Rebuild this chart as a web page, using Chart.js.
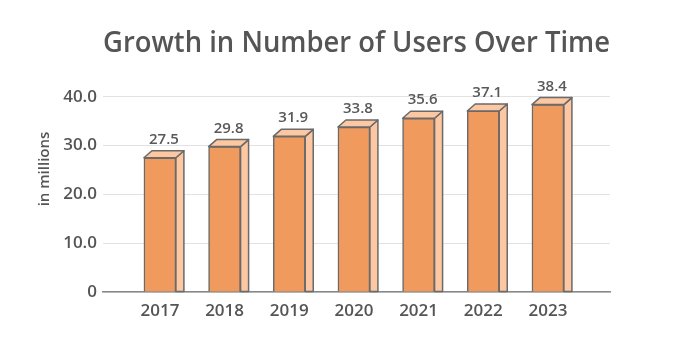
<!DOCTYPE html>
<html>
<head>
<meta charset="utf-8">
<script src="https://cdn.jsdelivr.net/npm/chart.js@4"></script>
<style>
  html, body { margin: 0; padding: 0; background: #fff; }
  #wrap { width: 683px; height: 341px; }
</style>
</head>
<body>
<div id="wrap"><canvas id="users-chart"></canvas></div>
<script>
const years = ['2017', '2018', '2019', '2020', '2021', '2022', '2023'];
const users = [27.5, 29.8, 31.9, 33.8, 35.6, 37.1, 38.4];
const yTicks = [0, 10, 20, 30, 40];

const FONT = '"Open Sans", "Noto Sans", sans-serif';
const FRONT = '#f09a5d';
const SIDE = '#fdc7a2';
const EDGE = '#6a6a6a';
const DEPTH_X = 8;
const DEPTH_Y = 7;

// side + top faces so each bar reads as a box, plus the value above it
const boxBars = {
    id: 'boxBars',
    afterDatasetsDraw(chart) {
        const { ctx } = chart;
        const meta = chart.getDatasetMeta(0);
        ctx.save();
        ctx.lineWidth = 1.5;
        ctx.lineJoin = 'round';
        ctx.strokeStyle = EDGE;
        ctx.fillStyle = SIDE;
        meta.data.forEach((bar) => {
            const half = bar.width / 2;
            const left = bar.x - half;
            const right = bar.x + half;

            ctx.beginPath();
            ctx.moveTo(right, bar.y);
            ctx.lineTo(right + DEPTH_X, bar.y - DEPTH_Y);
            ctx.lineTo(right + DEPTH_X, bar.base);
            ctx.lineTo(right, bar.base);
            ctx.closePath();
            ctx.fill();
            ctx.stroke();

            ctx.beginPath();
            ctx.moveTo(left, bar.y);
            ctx.lineTo(left + DEPTH_X, bar.y - DEPTH_Y);
            ctx.lineTo(right + DEPTH_X, bar.y - DEPTH_Y);
            ctx.lineTo(right, bar.y);
            ctx.closePath();
            ctx.fill();
            ctx.stroke();
        });

        ctx.fillStyle = '#595959';
        ctx.font = `600 15px ${FONT}`;
        ctx.textAlign = 'center';
        ctx.textBaseline = 'alphabetic';
        meta.data.forEach((bar, i) => {
            ctx.fillText(users[i].toFixed(1), bar.x + DEPTH_X / 2, bar.y - 14);
        });
        ctx.restore();
    },
    afterDraw(chart) {
        const { ctx } = chart;
        ctx.save();
        ctx.translate(45, 169);
        ctx.rotate(-Math.PI / 2);
        ctx.fillStyle = '#555';
        ctx.font = `600 15px ${FONT}`;
        ctx.textAlign = 'center';
        ctx.textBaseline = 'middle';
        ctx.fillText('in millions', 0, 0);
        ctx.restore();
    }
};

new Chart(document.getElementById('users-chart'), {
    type: 'bar',
    data: {
        datasets: [{
            data: users.map((v, i) => ({ x: i, y: v })),
            backgroundColor: FRONT,
            borderColor: EDGE,
            borderWidth: 1.5,
            barThickness: 32
        }]
    },
    options: {
        responsive: true,
        maintainAspectRatio: false,
        animation: false,
        layout: { padding: { left: 0, right: 73, top: 0, bottom: 0 } },
        plugins: {
            legend: { display: false },
            tooltip: { enabled: false },
            title: {
                display: true,
                fullSize: false,
                text: 'Growth in Number of Users Over Time',
                color: '#555',
                font: { family: FONT, size: 29, weight: '600' },
                padding: { top: 26, bottom: 36 }
            }
        },
        scales: {
            x: {
                type: 'linear',
                offset: false,
                min: -0.88,
                max: 6.96,
                afterBuildTicks: (s) => { s.ticks = years.map((_, i) => ({ value: i })); },
                afterFit: (s) => { s.height = 49; },
                grid: { display: false },
                border: { color: '#888', width: 1.5 },
                ticks: {
                    color: '#555',
                    font: { family: FONT, size: 17, weight: '600' },
                    padding: 1,
                    callback: (v) => years[v] ?? ''
                }
            },
            y: {
                min: 0,
                max: 40,
                afterBuildTicks: (s) => { s.ticks = yTicks.map((v) => ({ value: v })); },
                afterFit: (s) => { s.width = 103; },
                grid: { color: '#e2e2e2', lineWidth: 1, drawTicks: false },
                border: { display: false },
                ticks: {
                    color: '#555',
                    font: { family: FONT, size: 17, weight: '600' },
                    padding: 6,
                    callback: (v) => (v === 0 ? '0' : v.toFixed(1))
                }
            }
        }
    },
    plugins: [boxBars]
});
</script>
</body>
</html>
